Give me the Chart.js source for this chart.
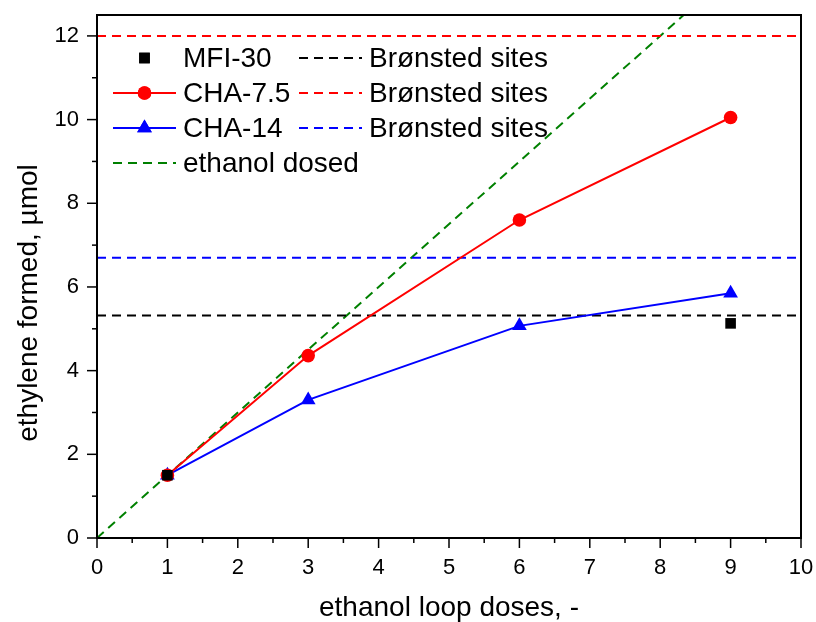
<!DOCTYPE html>
<html>
<head>
<meta charset="utf-8">
<script src="https://cdn.jsdelivr.net/npm/chart.js@4.4.1/dist/chart.umd.min.js"></script>
<style>
  html, body { margin: 0; padding: 0; background: #fff; }
  #wrap { width: 816px; height: 622px; }
</style>
</head>
<body>
<div id="wrap"><canvas id="chart" width="816" height="622"></canvas></div>
<script>
// data
const doses = [1, 3, 6, 9];
const mfi30 = [1.5, null, null, 5.13];
const cha75 = [1.5, 4.36, 7.6, 10.05];
const cha14 = [1.5, 3.3, 5.07, 5.85];

// Brønsted site capacity lines (span whole x axis)
const siteX = [0, 10];
const sitesMFI30 = [5.32, 5.32];
const sitesCHA75 = [12, 12];
const sitesCHA14 = [6.7, 6.7];

// ethanol dosed line
const dosedX = [0, 10];
const dosedY = [0, 15];

const xTicks = [0, 1, 2, 3, 4, 5, 6, 7, 8, 9, 10];
const yTicks = [0, 2, 4, 6, 8, 10, 12];

const FONT = '"Liberation Sans", Arial, sans-serif';
const pts = (xs, ys) => xs.map((x, i) => ({ x: x, y: ys[i] }));

// legend rows: marker column + dashed Brønsted column
const legendRows = [
    { label: 'MFI-30', color: '#000000', style: 'rect', radius: 7.5, solid: false, site: 'Brønsted sites' },
    { label: 'CHA-7.5', color: '#ff0000', style: 'circle', radius: 6.8, solid: true, site: 'Brønsted sites' },
    { label: 'CHA-14', color: '#0000ff', style: 'triangle', radius: 8.5, solid: true, site: 'Brønsted sites' },
    { label: 'ethanol dosed', color: '#008000', style: null, radius: 0, solid: false, dashed: true, site: null }
];

const framePlugin = {
    id: 'frame',
    afterDraw(chart) {
        const ctx = chart.ctx;
        const a = chart.chartArea;
        const xs = chart.scales.x, ys = chart.scales.y;
        ctx.save();
        ctx.strokeStyle = '#000';
        ctx.lineWidth = 2;
        ctx.strokeRect(a.left, a.top, a.right - a.left, a.bottom - a.top);
        ctx.lineWidth = 1.5;
        // x ticks (major + minor)
        for (let i = 0; i < xTicks.length; i++) {
            const px = xs.getPixelForValue(xTicks[i]);
            ctx.beginPath(); ctx.moveTo(px, a.bottom); ctx.lineTo(px, a.bottom + 10); ctx.stroke();
            if (i < xTicks.length - 1) {
                const mx = xs.getPixelForValue((xTicks[i] + xTicks[i + 1]) / 2);
                ctx.beginPath(); ctx.moveTo(mx, a.bottom); ctx.lineTo(mx, a.bottom + 5); ctx.stroke();
            }
        }
        // y ticks (major + minor)
        for (let i = 0; i < yTicks.length; i++) {
            const py = ys.getPixelForValue(yTicks[i]);
            ctx.beginPath(); ctx.moveTo(a.left, py); ctx.lineTo(a.left - 10, py); ctx.stroke();
            if (i < yTicks.length - 1) {
                const my = ys.getPixelForValue((yTicks[i] + yTicks[i + 1]) / 2);
                ctx.beginPath(); ctx.moveTo(a.left, my); ctx.lineTo(a.left - 5, my); ctx.stroke();
            }
        }

        // y axis title (sits a bit below the middle of the axis in the original)
        ctx.fillStyle = '#000';
        ctx.font = '28px ' + FONT;
        ctx.save();
        ctx.translate(29, 303);
        ctx.rotate(-Math.PI / 2);
        ctx.textAlign = 'center';
        ctx.textBaseline = 'middle';
        ctx.fillText('ethylene formed, µmol', 0, 0);
        ctx.restore();

        // legend
        ctx.textBaseline = 'middle';
        ctx.textAlign = 'left';
        legendRows.forEach((r, i) => {
            const y = 58 + i * 35;
            ctx.strokeStyle = r.color;
            ctx.fillStyle = r.color;
            ctx.lineWidth = 2;
            if (r.solid) {
                ctx.setLineDash([]);
                ctx.beginPath(); ctx.moveTo(113, y); ctx.lineTo(176, y); ctx.stroke();
            }
            if (r.dashed) {
                ctx.setLineDash([9, 6]);
                ctx.beginPath(); ctx.moveTo(113, y); ctx.lineTo(176, y); ctx.stroke();
                ctx.setLineDash([]);
            }
            if (r.style) {
                Chart.helpers.drawPoint(ctx, { pointStyle: r.style, radius: r.radius, rotation: 0, borderWidth: 0 }, 144.5, y);
                ctx.fill();
            }
            ctx.fillStyle = '#000';
            ctx.fillText(r.label, 183, y + 1);
            if (r.site) {
                ctx.strokeStyle = r.color;
                ctx.setLineDash([9, 6]);
                ctx.beginPath(); ctx.moveTo(299, y); ctx.lineTo(362, y); ctx.stroke();
                ctx.setLineDash([]);
                ctx.fillText(r.site, 369, y + 1);
            }
        });
        ctx.restore();
    }
};

const dashedLine = (data, color) => ({
    data: data,
    borderColor: color,
    borderWidth: 2,
    borderDash: [9, 6],
    pointRadius: 0,
    showLine: true,
    fill: false
});

new Chart(document.getElementById('chart'), {
    type: 'scatter',
    data: {
        datasets: [
            { data: pts(doses, mfi30), pointStyle: 'rect', pointRadius: 7.5, backgroundColor: '#000', borderColor: '#000', borderWidth: 0, showLine: false },
            { data: pts(doses, cha75), pointStyle: 'circle', pointRadius: 6.8, backgroundColor: '#ff0000', borderColor: '#ff0000', borderWidth: 2, pointBorderWidth: 0, showLine: true },
            { data: pts(doses, cha14), pointStyle: 'triangle', pointRadius: 8.5, backgroundColor: '#0000ff', borderColor: '#0000ff', borderWidth: 2, pointBorderWidth: 0, showLine: true },
            dashedLine(pts(siteX, sitesMFI30), '#000000'),
            dashedLine(pts(siteX, sitesCHA75), '#ff0000'),
            dashedLine(pts(siteX, sitesCHA14), '#0000ff'),
            dashedLine(pts(dosedX, dosedY), '#008000')
        ]
    },
    options: {
        responsive: false,
        animation: false,
        devicePixelRatio: 1,
        layout: { padding: { top: 15, right: 15, left: 0, bottom: 0 } },
        plugins: { legend: { display: false }, tooltip: { enabled: false } },
        scales: {
            x: {
                type: 'linear',
                min: 0,
                max: 10,
                afterBuildTicks(scale) { scale.ticks = xTicks.map(v => ({ value: v })); },
                afterFit(scale) {
                    scale.height = 84;
                    scale.paddingLeft = 0;
                    scale.paddingRight = 0;
                },
                grid: { display: false, drawTicks: false },
                border: { display: false },
                ticks: { color: '#000', font: { family: FONT, size: 22 }, padding: 17, maxRotation: 0, autoSkip: false },
                title: { display: true, text: 'ethanol loop doses, -', color: '#000', font: { family: FONT, size: 28, lineHeight: 1 }, padding: { top: 0, bottom: 0 } }
            },
            y: {
                type: 'linear',
                min: 0,
                max: 12.5,
                afterBuildTicks(scale) { scale.ticks = yTicks.map(v => ({ value: v })); },
                afterFit(scale) {
                    scale.width = 97;
                    scale.paddingTop = 0;
                    scale.paddingBottom = 0;
                },
                grid: { display: false, drawTicks: false },
                border: { display: false },
                ticks: { color: '#000', font: { family: FONT, size: 22 }, padding: 18, autoSkip: false }
            }
        }
    },
    plugins: [framePlugin]
});
</script>
</body>
</html>
